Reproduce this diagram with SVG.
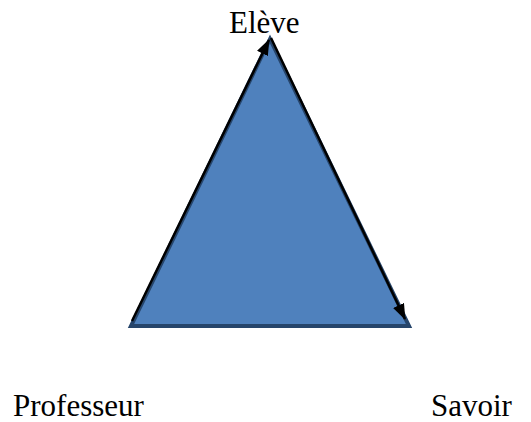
<svg xmlns="http://www.w3.org/2000/svg" width="531" height="422" viewBox="0 0 531 422">
<style>
.lbl{font-family:"Liberation Serif","Times New Roman",serif;font-size:31px;fill:#000}
.edge{stroke:#000;stroke-width:2.5;fill:none}
</style>
<defs>
<marker id="ah" viewBox="0 0 16 12" refX="15" refY="6" markerWidth="16" markerHeight="12" orient="auto" markerUnits="userSpaceOnUse">
<path d="M0,0 L16,6 L0,12 z" fill="#000"/>
</marker>
</defs>
<rect width="531" height="422" fill="#fff"/>
<g id="triangle">
<polygon points="270,39 131,326 409,326" fill="#4f81bd" stroke="#26456b" stroke-width="4" stroke-linejoin="miter"/>
</g>
<g id="connectors">
<line class="edge" x1="132" y1="321" x2="269" y2="40" marker-end="url(#ah)"/>
<line class="edge" x1="271" y1="38" x2="405" y2="319" marker-end="url(#ah)"/>
</g>
<g id="eleve"><text class="lbl" x="229" y="33">Elève</text></g>
<g id="professeur"><text class="lbl" x="13" y="416">Professeur</text></g>
<g id="savoir"><text class="lbl" x="431" y="416">Savoir</text></g>
</svg>
